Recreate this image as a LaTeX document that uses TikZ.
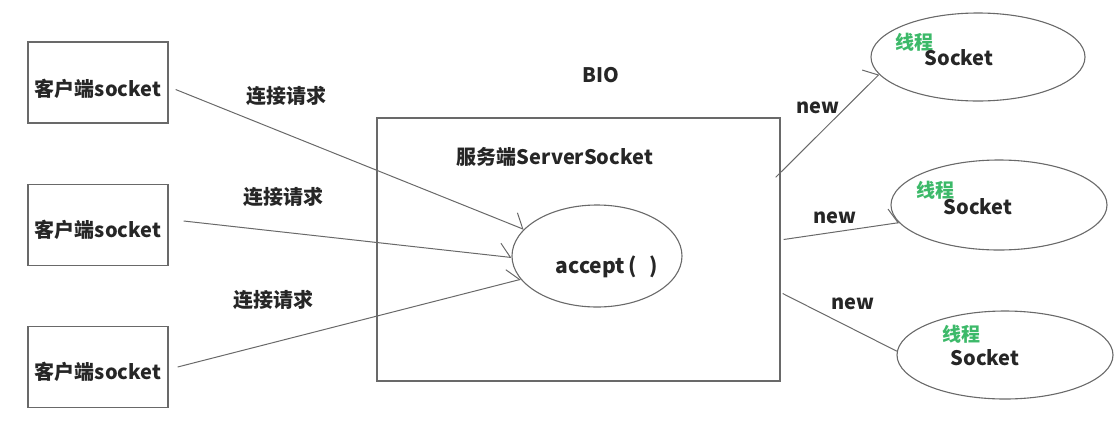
\documentclass[tikz,border=0pt]{standalone}
\usepackage{fontspec}
\setmainfont{Noto Sans CJK SC}
\usetikzlibrary{arrows.meta,shapes.geometric}
\definecolor{linegray}{RGB}{105,105,105}
\definecolor{threadgreen}{RGB}{60,185,105}
\tikzset{
  txt/.style={font=\fontsize{20}{22}\selectfont\bfseries, text=black!85, inner sep=0pt},
  client/.style={draw=linegray, line width=1.3pt, minimum width=140pt, minimum height=81pt, inner sep=0pt},
  server/.style={draw=linegray, line width=1.3pt, minimum width=403pt, minimum height=263pt, inner sep=0pt},
  oval/.style={ellipse, draw=linegray, line width=1.1pt, inner sep=0pt},
  conn/.style={draw=linegray, line width=1pt, -{Straight Barb[left,length=11pt,width=26pt,line width=1pt]}},
  newconn/.style={draw=linegray, line width=1pt, -{Straight Barb[left,length=8pt,width=30pt,line width=1pt]}},
  plainconn/.style={draw=linegray, line width=1pt},
  thread/.style={font=\fontsize{19}{21}\selectfont\bfseries, text=threadgreen, inner sep=0pt},
}
\begin{document}
\begin{tikzpicture}[x=1pt,y=-1pt]
\useasboundingbox (0,0) rectangle (1119,429);
% clients
\node[client] (c1) at (98,82.5) {};
\node[client] (c2) at (98,225) {};
\node[client] (c3) at (98,367) {};
\node[txt] (t1) at (98,89) {客户端socket};
\node[txt] (t2) at (98,230) {客户端socket};
\node[txt] (t3) at (98,372) {客户端socket};
% server
\node[server] (srv) at (578.5,249.5) {};
\node[txt] (bio) at (601,75) {BIO};
\node[txt] (srvlbl) at (555,157) {服务端ServerSocket};
\node[oval, minimum width=170pt, minimum height=102pt] (acc) at (597,256) {};
\node[txt, font=\fontsize{21}{23}\selectfont\bfseries] (acctxt) at (607,267) {accept\,(\ \ \,)};
% sockets
\node[oval, minimum width=214pt, minimum height=88pt] (s1) at (978,57) {};
\node[oval, minimum width=216pt, minimum height=90pt] (s2) at (999,205) {};
\node[oval, minimum width=216pt, minimum height=88pt] (s3) at (1005,355) {};
\node[thread] (th1) at (914,42) {线程};
\node[thread] (th2) at (935,190) {线程};
\node[thread] (th3) at (961,334) {线程};
\node[txt] (so1) at (959,58) {Socket};
\node[txt] (so2) at (978,207) {Socket};
\node[txt] (so3) at (985,358) {Socket};
% request labels
\node[txt] (r1) at (286,96) {连接请求};
\node[txt] (r2) at (283,197) {连接请求};
\node[txt] (r3) at (273,300) {连接请求};
% new labels
\node[txt] (n1) at (818,108) {new};
\node[txt] (n2) at (835,218) {new};
\node[txt] (n3) at (853,304) {new};
% connectors
\draw[conn] ([shift={(7,7)}]c1.east) -- (acc.160);
\draw[conn] ([shift={(15,-4)}]c2.east) -- (acc.181);
\draw[conn] ([shift={(9,0)}]c3.east) -- (acc.197);
\draw[newconn] ([shift={(-5,60)}]srv.north east) -- (s1.190);
\draw[newconn] ([shift={(3,-10)}]srv.east) -- (s2.190);
\draw[plainconn] ([shift={(2,44)}]srv.east) -- (s3.178);
\end{tikzpicture}
\end{document}
